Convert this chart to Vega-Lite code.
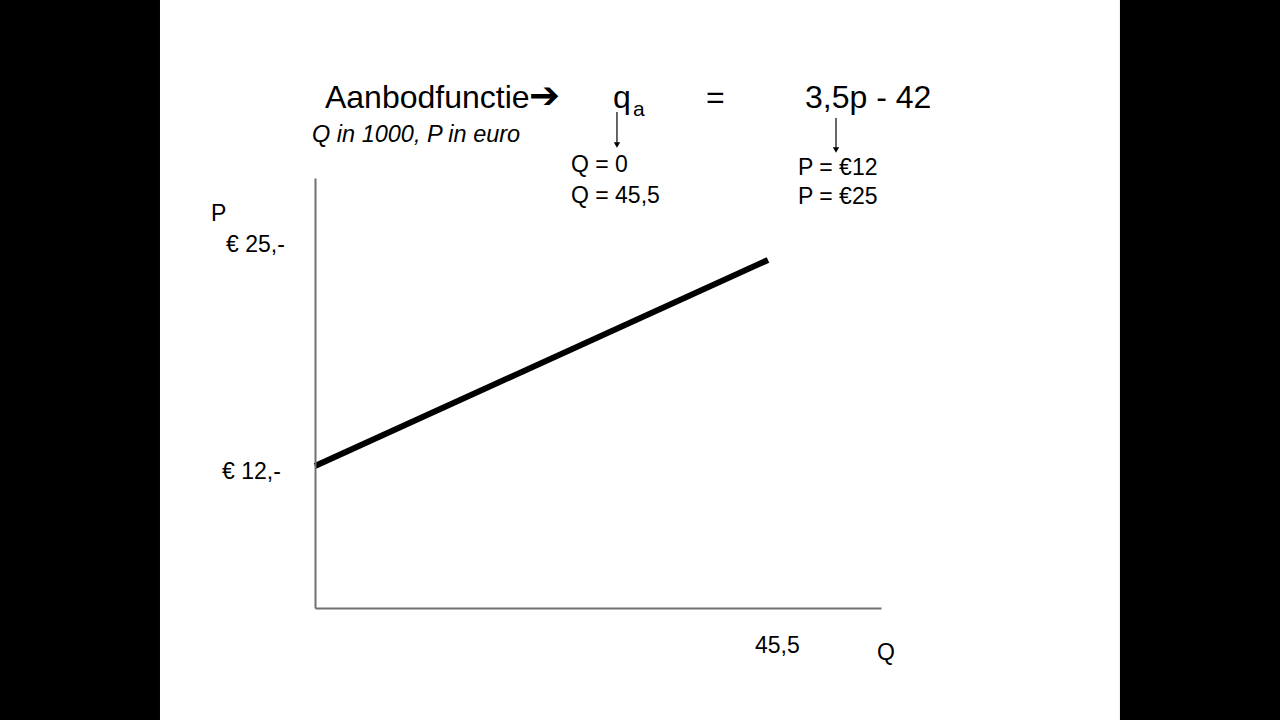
{
  "$schema": "https://vega.github.io/schema/vega-lite/v6.json",
  "width": 566,
  "height": 430,
  "autosize": {"type": "none"},
  "padding": {"left": 315, "top": 178, "right": 399, "bottom": 112},
  "background": "black",
  "config": {"view": {"stroke": null}},
  "datasets": {
    "slide": [{"Q": -15.57, "P": -4.03, "Q2": 80.85, "P2": 41.41}],
    "supply": [{"Q": 0, "P": 12}, {"Q": 45.5, "P": 25}],
    "title": [
      {"Q": 1.0, "P": 34.59, "label": "Aanbodfunctie"},
      {"Q": 29.93, "P": 34.59, "label": "q"},
      {"Q": 39.27, "P": 34.59, "label": "="},
      {"Q": 49.22, "P": 34.59, "label": "3,5p - 42"}
    ],
    "arrowglyph": [{"Q": 21.49, "P": 34.59, "label": "➔"}],
    "sub": [{"Q": 31.94, "P": 34.08, "label": "a"}],
    "note": [{"Q": -0.3, "P": 32.44, "label": "Q in 1000, P in euro"}],
    "labels": [
      {"Q": 25.71, "P": 30.52, "label": "Q = 0"},
      {"Q": 25.71, "P": 28.62, "label": "Q = 45,5"},
      {"Q": 48.51, "P": 30.33, "label": "P = €12"},
      {"Q": 48.51, "P": 28.5, "label": "P = €25"},
      {"Q": -10.45, "P": 27.46, "label": "P"},
      {"Q": -8.94, "P": 25.53, "label": "€ 25,-"},
      {"Q": -9.34, "P": 11.21, "label": "€ 12,-"},
      {"Q": 44.19, "P": 0.17, "label": "45,5"},
      {"Q": 56.45, "P": -0.27, "label": "Q"}
    ],
    "arrows": [
      {"Q": 30.33, "P": 34.33, "P2": 32.38},
      {"Q": 52.33, "P": 33.95, "P2": 32.06}
    ],
    "heads": [
      {"Q": 30.33, "P": 32.25},
      {"Q": 52.33, "P": 31.94}
    ]
  },
  "encoding": {
    "x": {
      "field": "Q",
      "type": "quantitative",
      "scale": {"domain": [0, 56.85], "nice": false, "zero": false},
      "axis": {"title": null, "labels": false, "ticks": false, "grid": false, "domainColor": "#707070", "domainWidth": 2, "zindex": 1}
    },
    "y": {
      "field": "P",
      "type": "quantitative",
      "scale": {"domain": [3.04, 30.17], "nice": false, "zero": false},
      "axis": {"title": null, "labels": false, "ticks": false, "grid": false, "domainColor": "#707070", "domainWidth": 2, "zindex": 1}
    }
  },
  "layer": [
    {
      "data": {"name": "slide"},
      "mark": {"type": "rect", "color": "white"},
      "encoding": {"x2": {"field": "Q2"}, "y2": {"field": "P2"}}
    },
    {
      "data": {"name": "supply"},
      "mark": {"type": "line", "color": "black", "strokeWidth": 6, "strokeCap": "butt"},
      "encoding": {}
    },
    {
      "data": {"name": "arrows"},
      "mark": {"type": "rule", "color": "black", "strokeWidth": 1.2},
      "encoding": {"y2": {"field": "P2"}}
    },
    {
      "data": {"name": "heads"},
      "mark": {"type": "point", "shape": "triangle-down", "filled": true, "color": "black", "size": 40, "opacity": 1},
      "encoding": {}
    },
    {
      "data": {"name": "title"},
      "mark": {"type": "text", "align": "left", "baseline": "alphabetic", "font": "Liberation Sans", "fontSize": 32, "color": "black"},
      "encoding": {"text": {"field": "label"}}
    },
    {
      "data": {"name": "arrowglyph"},
      "mark": {"type": "text", "align": "left", "baseline": "alphabetic", "font": "DejaVu Sans", "fontSize": 37, "color": "black"},
      "encoding": {"text": {"field": "label"}}
    },
    {
      "data": {"name": "sub"},
      "mark": {"type": "text", "align": "left", "baseline": "alphabetic", "font": "Liberation Sans", "fontSize": 21, "color": "black"},
      "encoding": {"text": {"field": "label"}}
    },
    {
      "data": {"name": "note"},
      "mark": {"type": "text", "align": "left", "baseline": "alphabetic", "font": "Liberation Sans", "fontSize": 23.5, "fontStyle": "italic", "color": "black"},
      "encoding": {"text": {"field": "label"}}
    },
    {
      "data": {"name": "labels"},
      "mark": {"type": "text", "align": "left", "baseline": "alphabetic", "font": "Liberation Sans", "fontSize": 23, "color": "black"},
      "encoding": {"text": {"field": "label"}}
    }
  ]
}
